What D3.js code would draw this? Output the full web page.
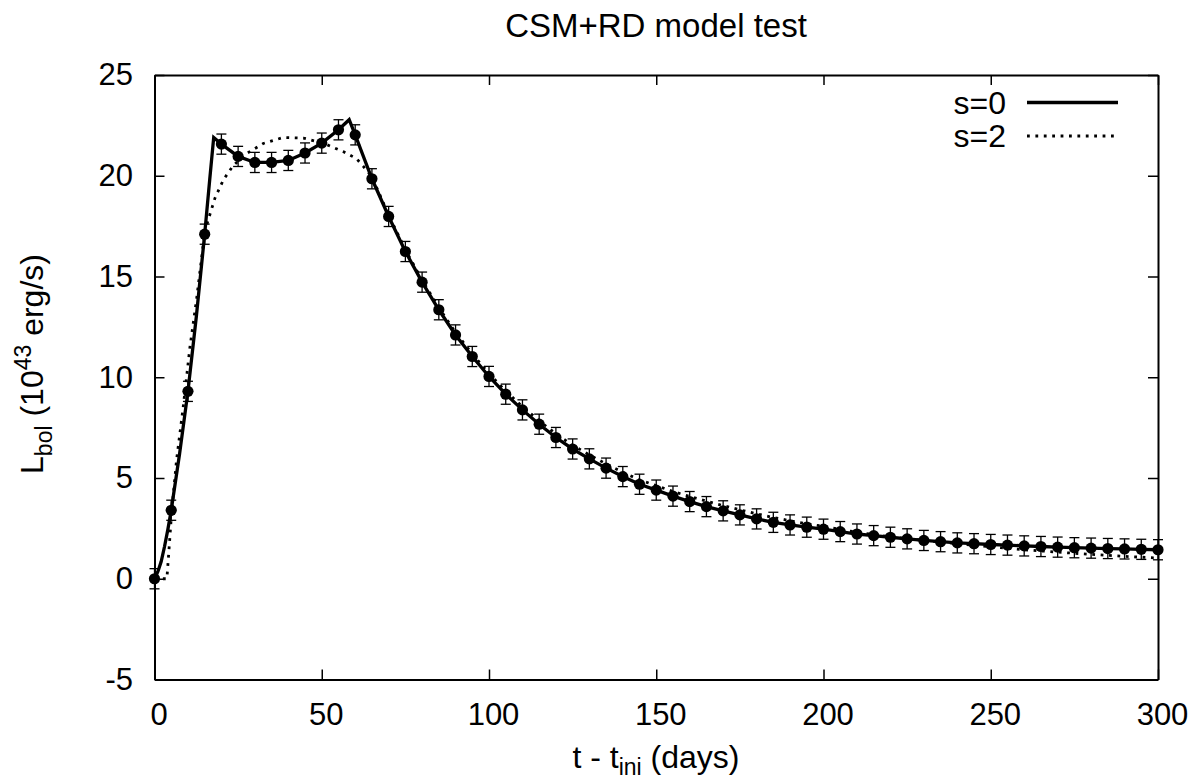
<!DOCTYPE html>
<html>
<head>
<meta charset="utf-8">
<script src="https://cdn.jsdelivr.net/npm/d3@7"></script>
<style>
    body { margin: 0; background: #fff; }
    #chart-area { width: 1196px; height: 782px; }
    text { font-family: "Liberation Sans", Arial, sans-serif; fill: #000; }
</style>
</head>
<body>
<div id="chart-area"></div>
<script>
// synthetic light curve, one point every 5 days
const obsDays = [0, 5, 10, 15, 20, 25, 30, 35, 40, 45, 50, 55, 60, 65, 70, 75, 80, 85, 90, 95,
    100, 105, 110, 115, 120, 125, 130, 135, 140, 145, 150, 155, 160, 165, 170, 175, 180, 185, 190, 195,
    200, 205, 210, 215, 220, 225, 230, 235, 240, 245, 250, 255, 260, 265, 270, 275, 280, 285, 290, 295, 300];
const obsLum = [0.0, 3.4, 9.3, 17.1, 21.57, 20.96, 20.66, 20.66, 20.76, 21.13, 21.62, 22.28, 22.03, 19.85, 17.98, 16.24, 14.72, 13.35, 12.10, 11.03,
    10.04, 9.16, 8.38, 7.67, 7.01, 6.44, 5.95, 5.49, 5.07, 4.69, 4.40, 4.10, 3.83, 3.58, 3.37, 3.17, 2.97, 2.80, 2.67, 2.56,
    2.46, 2.34, 2.22, 2.14, 2.06, 1.98, 1.90, 1.84, 1.78, 1.74, 1.70, 1.67, 1.63, 1.60, 1.57, 1.54, 1.52, 1.50, 1.48, 1.46, 1.44];
const obsErr = [0.5, 0.5, 0.5, 0.5, 0.5, 0.5, 0.5, 0.5, 0.5, 0.5, 0.5, 0.5, 0.5, 0.5, 0.5, 0.5, 0.5, 0.5, 0.5, 0.5,
    0.5, 0.5, 0.5, 0.5, 0.5, 0.5, 0.5, 0.5, 0.5, 0.5, 0.5, 0.5, 0.5, 0.5, 0.5, 0.5, 0.5, 0.5, 0.5, 0.5,
    0.5, 0.5, 0.5, 0.5, 0.5, 0.5, 0.5, 0.5, 0.5, 0.5, 0.5, 0.5, 0.5, 0.5, 0.5, 0.5, 0.5, 0.5, 0.5, 0.5, 0.5];

// model s=0 (solid line)
const s0Days = [0, 1, 2, 3, 4, 5, 7.5, 10, 12.5, 15, 16.5, 17.7, 20, 25, 30, 35, 40, 45, 50, 55, 58.2, 60,
    65, 70, 75, 80, 85, 90, 95, 100, 105, 110, 115, 120, 125, 130, 135, 140, 145, 150, 155, 160, 165, 170, 175, 180, 185, 190, 195,
    200, 205, 210, 215, 220, 225, 230, 235, 240, 245, 250, 255, 260, 265, 270, 275, 280, 285, 290, 295, 300];
const s0Lum = [0.0, 0.35, 0.85, 1.6, 2.45, 3.4, 6.2, 9.3, 13.0, 17.1, 19.8, 21.9, 21.57, 20.96, 20.66, 20.66, 20.76, 21.13, 21.62, 22.28, 22.78, 22.03,
    19.85, 17.98, 16.24, 14.72, 13.35, 12.10, 11.03, 10.04, 9.16, 8.38, 7.67, 7.01, 6.44, 5.95, 5.49, 5.07, 4.69, 4.40, 4.10, 3.83, 3.58, 3.37, 3.17, 2.97, 2.80, 2.67, 2.56,
    2.46, 2.34, 2.22, 2.14, 2.06, 1.98, 1.90, 1.84, 1.78, 1.74, 1.70, 1.67, 1.63, 1.60, 1.57, 1.54, 1.52, 1.50, 1.48, 1.46, 1.44];

// model s=2 (dotted line)
const s2Days = [0, 3.7, 4.4, 5.1, 6.6, 8.6, 10.6, 12.6, 15.1, 18.1, 20.6, 23.5, 27.5, 32.5, 38.5, 44.5, 50.4, 56.4, 60.4, 62.5,
    65, 70, 75, 80, 85, 90, 95, 100, 105, 110, 115, 120, 125, 130, 135, 140, 145, 150, 155, 160, 165, 170, 175, 180, 185, 190, 195,
    200, 205, 210, 220, 230, 240, 250, 260, 270, 280, 290, 300];
const s2Lum = [0.0, 0.0, 1.6, 3.25, 5.9, 8.55, 11.5, 13.9, 17.3, 18.9, 19.8, 20.5, 21.1, 21.6, 21.9, 21.87, 21.62, 21.2, 20.85, 20.45,
    19.95, 18.05, 16.33, 14.82, 13.46, 12.22, 11.16, 10.18, 9.31, 8.54, 7.84, 7.19, 6.63, 6.15, 5.70, 5.28, 4.91, 4.62, 4.33, 4.08, 3.85, 3.63, 3.42, 3.22, 3.04, 2.88, 2.73,
    2.60, 2.45, 2.31, 2.08, 1.90, 1.74, 1.58, 1.44, 1.32, 1.21, 1.11, 1.03];

const xTicks = [0, 50, 100, 150, 200, 250, 300];
const yTicks = [-5, 0, 5, 10, 15, 20, 25];
const legendLabels = ["s=0", "s=2"];
const chartTitle = "CSM+RD model test";

class LightCurveVis {
    constructor(parentElement) {
        this.parentElement = parentElement;
        this.initVis();
    }

    initVis() {
        let vis = this;

        vis.margin = {top: 75, right: 38, bottom: 102.5, left: 154.5};
        vis.width = 1196 - vis.margin.left - vis.margin.right;
        vis.height = 782 - vis.margin.top - vis.margin.bottom;
        vis.fontSize = 31;

        vis.root = d3.select("#" + vis.parentElement)
            .append("svg")
            .attr("width", 1196)
            .attr("height", 782);

        vis.svg = vis.root.append("g")
            .attr("transform", `translate(${vis.margin.left}, ${vis.margin.top})`);

        vis.x = d3.scaleLinear().domain([0, 300]).range([0, vis.width]);
        vis.y = d3.scaleLinear().domain([-5, 25]).range([vis.height, 0]);

        vis.updateVis();
    }

    updateVis() {
        let vis = this;

        // axes, ticks pointing inward on all four sides (plain hyphen for negatives, like gnuplot)
        let fmt = d => String(d);
        let xAxis = d3.axisBottom(vis.x).tickValues(xTicks).tickFormat(fmt).tickSizeInner(-10).tickSizeOuter(0).tickPadding(23);
        let yAxis = d3.axisLeft(vis.y).tickValues(yTicks).tickFormat(fmt).tickSizeInner(-10).tickSizeOuter(0).tickPadding(21.5);
        let xTop = d3.axisTop(vis.x).tickValues(xTicks).tickSizeInner(-10).tickSizeOuter(0).tickFormat("");
        let yRight = d3.axisRight(vis.y).tickValues(yTicks).tickSizeInner(-10).tickSizeOuter(0).tickFormat("");

        let gx = vis.svg.append("g").attr("transform", `translate(0, ${vis.height})`).call(xAxis);
        let gy = vis.svg.append("g").call(yAxis);
        let gt = vis.svg.append("g").call(xTop);
        let gr = vis.svg.append("g").attr("transform", `translate(${vis.width}, 0)`).call(yRight);

        [gx, gy, gt, gr].forEach(g => {
            g.select(".domain").attr("stroke", "#000").attr("stroke-width", 2);
            g.selectAll(".tick line").attr("stroke", "#000").attr("stroke-width", 1.5);
            g.selectAll("text")
                .attr("font-size", vis.fontSize)
                .attr("font-family", "Liberation Sans, Arial, sans-serif")
                .attr("fill", "#000");
        });
        gx.selectAll("text").attr("dx", 4);

        let line = d3.line()
            .x(d => vis.x(d[0]))
            .y(d => vis.y(d[1]));

        // error bars
        let obs = obsDays.map((t, i) => ({t: t, L: obsLum[i], e: obsErr[i]}));
        let bars = vis.svg.append("g").attr("class", "errorbars")
            .selectAll("g").data(obs).enter().append("g")
            .attr("stroke", "#000").attr("stroke-width", 1.3);
        bars.append("line")
            .attr("x1", d => vis.x(d.t)).attr("x2", d => vis.x(d.t))
            .attr("y1", d => vis.y(d.L - d.e)).attr("y2", d => vis.y(d.L + d.e));
        bars.append("line")
            .attr("x1", d => vis.x(d.t) - 5).attr("x2", d => vis.x(d.t) + 5)
            .attr("y1", d => vis.y(d.L - d.e)).attr("y2", d => vis.y(d.L - d.e));
        bars.append("line")
            .attr("x1", d => vis.x(d.t) - 5).attr("x2", d => vis.x(d.t) + 5)
            .attr("y1", d => vis.y(d.L + d.e)).attr("y2", d => vis.y(d.L + d.e));

        // data points
        vis.svg.append("g").selectAll("circle").data(obs).enter().append("circle")
            .attr("cx", d => vis.x(d.t))
            .attr("cy", d => vis.y(d.L))
            .attr("r", 5.6)
            .attr("fill", "#000");

        // model curves
        vis.svg.append("path")
            .datum(s2Days.map((t, i) => [t, s2Lum[i]]))
            .attr("d", line)
            .attr("fill", "none")
            .attr("stroke", "#000")
            .attr("stroke-width", 2.8)
            .attr("stroke-dasharray", "2.8,5.6");

        vis.svg.append("path")
            .datum(s0Days.map((t, i) => [t, s0Lum[i]]))
            .attr("d", line)
            .attr("fill", "none")
            .attr("stroke", "#000")
            .attr("stroke-width", 3.3)
            .attr("stroke-linejoin", "miter");

        // legend
        let legend = vis.root.append("g").attr("class", "legend");
        legendLabels.forEach((lab, i) => {
            let ly = 102.5 + i * 33.5;
            legend.append("text")
                .attr("x", 1006).attr("y", ly + 11)
                .attr("text-anchor", "end")
                .attr("font-size", 32)
                .text(lab);
            legend.append("line")
                .attr("x1", 1027).attr("x2", 1118)
                .attr("y1", ly).attr("y2", ly)
                .attr("stroke", "#000")
                .attr("stroke-width", i === 0 ? 3.3 : 2.8)
                .attr("stroke-dasharray", i === 0 ? null : "2.8,5.6");
        });

        // title
        vis.root.append("text")
            .attr("x", 656).attr("y", 37)
            .attr("text-anchor", "middle")
            .attr("font-size", 33)
            .text(chartTitle);

        // x label: t - t_ini (days)
        let xl = vis.root.append("text")
            .attr("x", 656).attr("y", 768)
            .attr("text-anchor", "middle")
            .attr("font-size", 32);
        xl.append("tspan").text("t - t");
        xl.append("tspan").attr("font-size", 23).attr("dy", 7).text("ini");
        xl.append("tspan").attr("dy", -7).text(" (days)");

        // y label: L_bol (10^43 erg/s)
        let yl = vis.root.append("text")
            .attr("transform", "translate(43, 364) rotate(-90)")
            .attr("text-anchor", "middle")
            .attr("font-size", 32);
        yl.append("tspan").text("L");
        yl.append("tspan").attr("font-size", 23).attr("dy", 9).text("bol");
        yl.append("tspan").attr("dy", -9).text(" (10");
        yl.append("tspan").attr("font-size", 23).attr("dy", -12).text("43");
        yl.append("tspan").attr("dy", 12).text(" erg/s)");
    }
}

new LightCurveVis("chart-area");
</script>
</body>
</html>
